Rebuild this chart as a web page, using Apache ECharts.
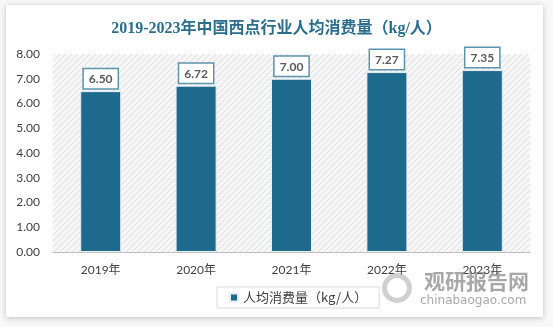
<!DOCTYPE html>
<html><head><meta charset="utf-8">
<script src="https://cdn.jsdelivr.net/npm/echarts@6/dist/echarts.min.js"></script>
<style>html,body{margin:0;padding:0;background:#f8f8f8;}#c{width:553px;height:327px;}</style>
</head><body><div id="c"></div>
<script>
const categories = ['2019年','2020年','2021年','2022年','2023年'];
const values = [6.50, 6.72, 7.00, 7.27, 7.35];
const seriesName = '人均消费量（kg/人）';
const titleText = '2019-2023年中国西点行业人均消费量（kg/人）';

const pc = document.createElement('canvas');
pc.width = 6; pc.height = 6;
const g = pc.getContext('2d');
g.fillStyle = '#f7f7f7'; g.fillRect(0,0,6,6);
g.strokeStyle = '#dcdcdc'; g.lineWidth = 1;
g.beginPath();
g.moveTo(0,6); g.lineTo(6,0);
g.moveTo(-3,3); g.lineTo(3,-3);
g.moveTo(3,9); g.lineTo(9,3);
g.stroke();

const chart = echarts.init(document.getElementById('c'), null, {renderer:'canvas'});
const teal = '#1d6a8c';
chart.setOption({
  backgroundColor: '#f8f8f8',
  animation: false,
  graphic: [
    {type:'rect', z:-10, shape:{x:6,y:5,width:537,height:312}, style:{fill:'#fff', shadowBlur:6, shadowColor:'rgba(0,0,0,0.22)', shadowOffsetX:0, shadowOffsetY:1}},
    {type:'text', z:5, left:424, top:271, style:{text:'观研报告网', fill:'rgba(110,110,110,0.6)', font:'bold 21px "Noto Sans CJK SC"'}},
    {type:'text', z:5, left:420, top:295, style:{text:'chinabaogao.com', fill:'rgba(110,110,110,0.6)', font:'12px "DejaVu Sans"'}},
    {type:'ring', z:5, shape:{cx:397, cy:288, r:15, r0:10}, style:{fill:'rgba(150,150,150,0.45)'}}
  ],
  title: {
    text: titleText, left: 'center', top: 16,
    textStyle: {color:'#2b6d8c', fontSize:16, fontWeight:'bold', fontFamily:'"Liberation Serif","Noto Sans CJK SC"'}
  },
  grid: {left:53, right:23, top:54, bottom:75, show:true, borderWidth:0, backgroundColor:{image:pc, repeat:'repeat'}},
  legend: {
    data:[seriesName], top:287, left:217,
    itemWidth:8, itemHeight:8, icon:'rect',
    borderColor:'#d9d9d9', borderWidth:1, padding:[4,12,4,12],
    textStyle:{fontSize:13, color:'#404040', fontFamily:'"Noto Sans CJK SC"'}
  },
  xAxis: {
    type:'category', data:categories,
    axisLine:{show:true, lineStyle:{color:'#bfbfbf'}},
    axisTick:{show:false},
    axisLabel:{color:'#404040', fontSize:12, margin:12, fontFamily:'Lato,"Noto Sans CJK SC"'}
  },
  yAxis: {
    type:'value', min:0, max:8, interval:1,
    axisLine:{show:false}, axisTick:{show:false}, splitLine:{show:false},
    axisLabel:{color:'#404040', fontSize:12, margin:13, fontFamily:'Lato', formatter:v=>v.toFixed(2)}
  },
  series: [{
    name: seriesName, type:'bar', data: values, barWidth:'43%',
    itemStyle:{color:teal, borderColor:'#e8eef2', borderWidth:1},
    label:{show:true, position:'top', distance:3, formatter:p=>p.value.toFixed(2),
      color:'#595959', fontSize:12, fontWeight:'bold', fontFamily:'Lato',
      backgroundColor:'#fff', borderColor:'#5d93ab', borderWidth:1.5, padding:[4,5,3,5]}
  }]
});
</script></body></html>
